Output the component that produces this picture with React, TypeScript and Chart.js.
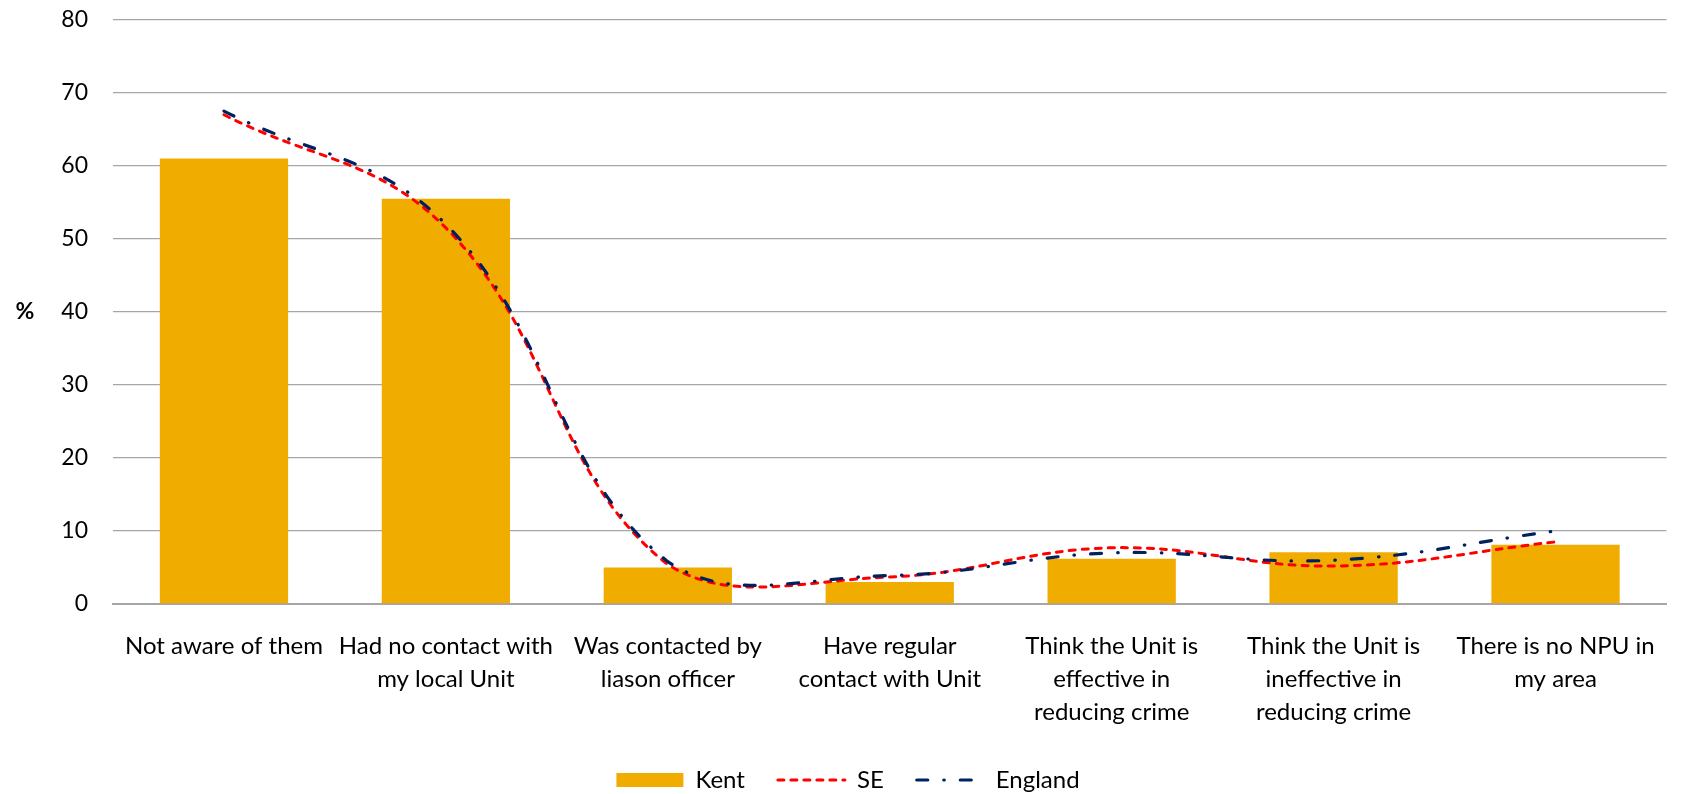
import React, { useEffect, useRef } from "react";
import { Chart, registerables } from "chart.js";

Chart.register(...registerables);

const categories: (string | string[])[] = [
  "Not aware of them",
  ["Had no contact with", "my local Unit"],
  ["Was contacted by", "liason officer"],
  ["Have regular", "contact with Unit"],
  ["Think the Unit is", "effective in", "reducing crime"],
  ["Think the Unit is", "ineffective in", "reducing crime"],
  ["There is no NPU in", "my area"],
];

const kentValues = [61, 55.5, 5, 3, 6.2, 7.1, 8.1];
const seValues = [67, 51.5, 5.4, 3.7, 7.7, 5.2, 8.5];
const englandValues = [67.5, 52, 5.8, 3.9, 7.0, 6.0, 10];

const yMin = 0;
const yMax = 80;
const yStep = 10;

const KENT_COLOR = "#F0AD00";
const SE_COLOR = "#FF0000";
const ENG_COLOR = "#002060";
const SE_DASH = [6, 7];
const ENG_DASH = [11, 16, 0.5, 16];
const FONT = "Lato";

const percentTitle = {
  id: "percentTitle",
  afterDraw(chart: any) {
    const { ctx, chartArea } = chart;
    ctx.save();
    ctx.font = `bold 23px ${FONT}`;
    ctx.fillStyle = "#000";
    ctx.textAlign = "center";
    ctx.textBaseline = "middle";
    ctx.fillText("%", 25, (chartArea.top + chartArea.bottom) / 2);
    ctx.restore();
  },
};

export default function App() {
  const ref = useRef<HTMLCanvasElement>(null);

  useEffect(() => {
    document.body.style.margin = "0";
    document.body.style.overflow = "hidden";
    const canvas = ref.current!;
    const chart = new Chart(canvas, {
      type: "bar",
      data: {
        labels: categories,
        datasets: [
          {
            type: "bar",
            label: "Kent",
            data: kentValues,
            backgroundColor: KENT_COLOR,
            borderWidth: 0,
            barPercentage: 0.578,
            categoryPercentage: 1,
            order: 3,
          },
          {
            type: "line",
            label: "SE",
            data: seValues,
            borderColor: SE_COLOR,
            backgroundColor: SE_COLOR,
            borderWidth: 3,
            borderDash: SE_DASH,
            borderCapStyle: "round",
            tension: 0.4,
            pointRadius: 0,
            fill: false,
            order: 2,
          },
          {
            type: "line",
            label: "England",
            data: englandValues,
            borderColor: ENG_COLOR,
            backgroundColor: ENG_COLOR,
            borderWidth: 3.2,
            borderDash: ENG_DASH,
            borderCapStyle: "round",
            tension: 0.4,
            pointRadius: 0,
            fill: false,
            order: 1,
          },
        ] as any,
      },
      options: {
        responsive: false,
        animation: false,
        devicePixelRatio: 1,
        layout: { padding: { left: 20, right: 5, top: 3, bottom: 0 } },
        plugins: {
          tooltip: { enabled: false },
          legend: {
            position: "bottom",
            maxHeight: 59,
            labels: {
              usePointStyle: true,
              pointStyleWidth: 67,
              boxHeight: 14,
              padding: 33,
              color: "#000",
              font: { family: FONT, size: 24 },
              generateLabels: () => [
                {
                  text: "Kent",
                  datasetIndex: 0,
                  fillStyle: KENT_COLOR,
                  strokeStyle: KENT_COLOR,
                  lineWidth: 0,
                  pointStyle: "rect",
                  hidden: false,
                },
                {
                  text: "SE",
                  datasetIndex: 1,
                  fillStyle: "rgba(0,0,0,0)",
                  strokeStyle: SE_COLOR,
                  lineWidth: 3,
                  lineDash: SE_DASH,
                  lineCap: "round",
                  pointStyle: "line",
                  hidden: false,
                },
                {
                  text: "England",
                  datasetIndex: 2,
                  fillStyle: "rgba(0,0,0,0)",
                  strokeStyle: ENG_COLOR,
                  lineWidth: 3.2,
                  lineDash: ENG_DASH,
                  lineCap: "round",
                  pointStyle: "line",
                  hidden: false,
                },
              ] as any,
            },
          },
        },
        scales: {
          x: {
            offset: true,
            grid: { display: false, drawTicks: false },
            border: { display: true, color: "#A6A6A6", width: 2 },
            ticks: {
              autoSkip: false,
              maxRotation: 0,
              minRotation: 0,
              padding: 26,
              color: "#000",
              font: { family: FONT, size: 24, lineHeight: 1.375 },
            },
            afterFit: (scale: any) => {
              scale.height = 131;
            },
          },
          y: {
            min: yMin,
            max: yMax,
            grid: {
              color: "#A6A6A6",
              lineWidth: 1.3,
              drawTicks: true,
              tickLength: 19,
              tickColor: "rgba(0,0,0,0)",
            },
            border: { display: false },
            ticks: {
              stepSize: yStep,
              padding: 6,
              color: "#000",
              font: { family: FONT, size: 23 },
            },
            afterFit: (scale: any) => {
              scale.width = 93;
            },
          },
        },
      } as any,
      plugins: [percentTitle],
    });
    return () => chart.destroy();
  }, []);

  return (
    <div style={{ position: "absolute", left: 0, top: 0, width: 1681, height: 794 }}>
      <canvas ref={ref} width={1681} height={794} style={{ display: "block", width: 1681, height: 794 }} />
    </div>
  );
}
